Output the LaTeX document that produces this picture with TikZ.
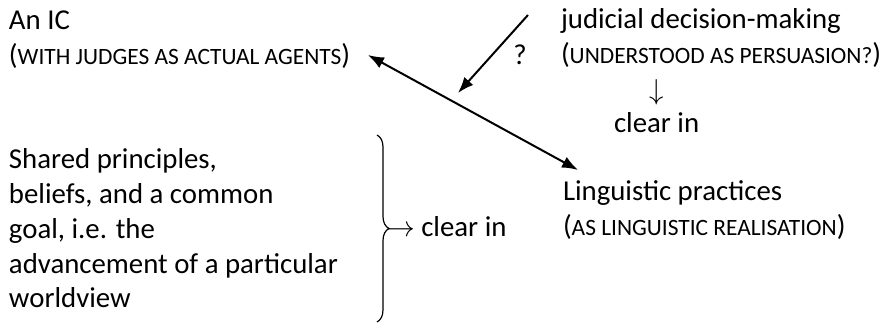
\documentclass[tikz,border=0pt]{standalone}
\usepackage{fontspec}
\setmainfont{Carlito}
\usetikzlibrary{arrows.meta,positioning,decorations.pathreplacing}
\tikzset{>={Latex[width=6pt,length=8pt]}}
\newcommand{\smcap}[1]{{\fontsize{11.7}{12}\selectfont #1}}

\begin{document}
\begin{tikzpicture}[x=0.5pt, y=-0.5pt, node distance={3pt}, line width=1pt,
  txt/.style = {anchor=north west, inner sep=0pt, align=left, font=\fontsize{14.4}{17.35}\selectfont}]
\useasboundingbox (0,0) rectangle (891,324);
\node[txt] (ic) at (8,4.7) {\strut An IC\\(\smcap{WITH JUDGES AS ACTUAL AGENTS})};
\node[txt] (jdm) at (560,3.7) {\strut judicial decision-making\\(\smcap{UNDERSTOOD AS PERSUASION?})};
\node[txt, anchor=base west] (clr1) at (613,133) {clear in};
\node[txt, anchor=south] (dn) [above=of clr1] {$\downarrow$};
\node[txt] (sp) at (8,143.7) {\strut Shared principles,\\beliefs, and a common\\goal, i.e. the\\advancement of a particular\\worldview};
\node[txt] (lp) at (562,175.7) {\strut Linguistic practices\\(\smcap{AS LINGUISTIC REALISATION})};
\node[txt, anchor=base west] (clr2) at (385,237) {$\rightarrow$ clear in};
\node[txt, anchor=center] (q) at (520,55) {?};
\coordinate (br1) at (377,135);
\coordinate (br2) at (377,322);
\coordinate (a1) at (368,55);
\coordinate (a2) at (578,170);
\coordinate (q1) at (528,15);
\coordinate (q2) at (458,93);
\draw[<->] (a1) -- (a2);
\draw[->] (q1) -- (q2);
\draw[line width=0.6pt, decorate, decoration={brace, amplitude=6pt}] (br1) -- (br2);
\end{tikzpicture}
\end{document}
